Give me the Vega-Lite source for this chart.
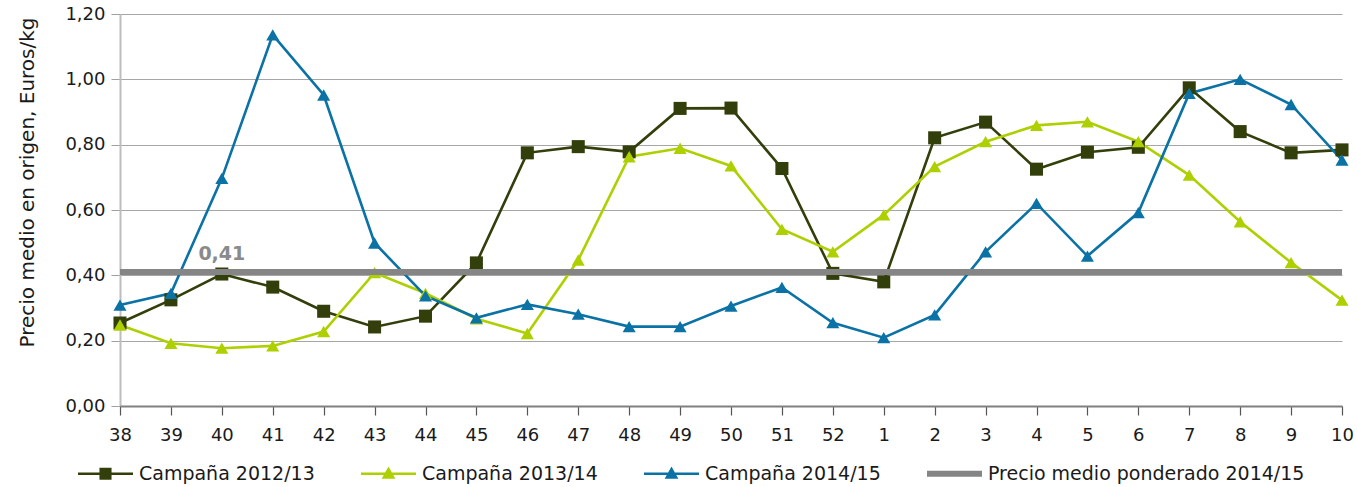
{
  "$schema": "https://vega.github.io/schema/vega-lite/v6.json",
  "width": 1222,
  "height": 392,
  "autosize": {"type": "none"},
  "padding": {"left": 120, "top": 14, "right": 15, "bottom": 81},
  "background": "white",
  "config": {
    "view": {"stroke": null},
    "font": "DejaVu Sans",
    "axis": {"labelFont": "DejaVu Sans", "titleFont": "DejaVu Sans", "labelColor": "#1a1a1a", "titleColor": "#1a1a1a"}
  },
  "datasets": {
    "precios": [
      {"serie": "Campaña 2012/13", "semana": "38", "precio": 0.254},
      {"serie": "Campaña 2012/13", "semana": "39", "precio": 0.325},
      {"serie": "Campaña 2012/13", "semana": "40", "precio": 0.404},
      {"serie": "Campaña 2012/13", "semana": "41", "precio": 0.364},
      {"serie": "Campaña 2012/13", "semana": "42", "precio": 0.290},
      {"serie": "Campaña 2012/13", "semana": "43", "precio": 0.242},
      {"serie": "Campaña 2012/13", "semana": "44", "precio": 0.275},
      {"serie": "Campaña 2012/13", "semana": "45", "precio": 0.438},
      {"serie": "Campaña 2012/13", "semana": "46", "precio": 0.775},
      {"serie": "Campaña 2012/13", "semana": "47", "precio": 0.794},
      {"serie": "Campaña 2012/13", "semana": "48", "precio": 0.778},
      {"serie": "Campaña 2012/13", "semana": "49", "precio": 0.911},
      {"serie": "Campaña 2012/13", "semana": "50", "precio": 0.912},
      {"serie": "Campaña 2012/13", "semana": "51", "precio": 0.727},
      {"serie": "Campaña 2012/13", "semana": "52", "precio": 0.406},
      {"serie": "Campaña 2012/13", "semana": "1", "precio": 0.380},
      {"serie": "Campaña 2012/13", "semana": "2", "precio": 0.821},
      {"serie": "Campaña 2012/13", "semana": "3", "precio": 0.869},
      {"serie": "Campaña 2012/13", "semana": "4", "precio": 0.725},
      {"serie": "Campaña 2012/13", "semana": "5", "precio": 0.777},
      {"serie": "Campaña 2012/13", "semana": "6", "precio": 0.792},
      {"serie": "Campaña 2012/13", "semana": "7", "precio": 0.974},
      {"serie": "Campaña 2012/13", "semana": "8", "precio": 0.840},
      {"serie": "Campaña 2012/13", "semana": "9", "precio": 0.775},
      {"serie": "Campaña 2012/13", "semana": "10", "precio": 0.784},
      {"serie": "Campaña 2013/14", "semana": "38", "precio": 0.248},
      {"serie": "Campaña 2013/14", "semana": "39", "precio": 0.192},
      {"serie": "Campaña 2013/14", "semana": "40", "precio": 0.177},
      {"serie": "Campaña 2013/14", "semana": "41", "precio": 0.184},
      {"serie": "Campaña 2013/14", "semana": "42", "precio": 0.228},
      {"serie": "Campaña 2013/14", "semana": "43", "precio": 0.408},
      {"serie": "Campaña 2013/14", "semana": "44", "precio": 0.345},
      {"serie": "Campaña 2013/14", "semana": "45", "precio": 0.267},
      {"serie": "Campaña 2013/14", "semana": "46", "precio": 0.222},
      {"serie": "Campaña 2013/14", "semana": "47", "precio": 0.447},
      {"serie": "Campaña 2013/14", "semana": "48", "precio": 0.763},
      {"serie": "Campaña 2013/14", "semana": "49", "precio": 0.789},
      {"serie": "Campaña 2013/14", "semana": "50", "precio": 0.735},
      {"serie": "Campaña 2013/14", "semana": "51", "precio": 0.541},
      {"serie": "Campaña 2013/14", "semana": "52", "precio": 0.472},
      {"serie": "Campaña 2013/14", "semana": "1", "precio": 0.585},
      {"serie": "Campaña 2013/14", "semana": "2", "precio": 0.733},
      {"serie": "Campaña 2013/14", "semana": "3", "precio": 0.809},
      {"serie": "Campaña 2013/14", "semana": "4", "precio": 0.859},
      {"serie": "Campaña 2013/14", "semana": "5", "precio": 0.870},
      {"serie": "Campaña 2013/14", "semana": "6", "precio": 0.809},
      {"serie": "Campaña 2013/14", "semana": "7", "precio": 0.707},
      {"serie": "Campaña 2013/14", "semana": "8", "precio": 0.564},
      {"serie": "Campaña 2013/14", "semana": "9", "precio": 0.439},
      {"serie": "Campaña 2013/14", "semana": "10", "precio": 0.324},
      {"serie": "Campaña 2014/15", "semana": "38", "precio": 0.309},
      {"serie": "Campaña 2014/15", "semana": "39", "precio": 0.345},
      {"serie": "Campaña 2014/15", "semana": "40", "precio": 0.697},
      {"serie": "Campaña 2014/15", "semana": "41", "precio": 1.136},
      {"serie": "Campaña 2014/15", "semana": "42", "precio": 0.952},
      {"serie": "Campaña 2014/15", "semana": "43", "precio": 0.499},
      {"serie": "Campaña 2014/15", "semana": "44", "precio": 0.337},
      {"serie": "Campaña 2014/15", "semana": "45", "precio": 0.270},
      {"serie": "Campaña 2014/15", "semana": "46", "precio": 0.311},
      {"serie": "Campaña 2014/15", "semana": "47", "precio": 0.281},
      {"serie": "Campaña 2014/15", "semana": "48", "precio": 0.243},
      {"serie": "Campaña 2014/15", "semana": "49", "precio": 0.243},
      {"serie": "Campaña 2014/15", "semana": "50", "precio": 0.306},
      {"serie": "Campaña 2014/15", "semana": "51", "precio": 0.363},
      {"serie": "Campaña 2014/15", "semana": "52", "precio": 0.255},
      {"serie": "Campaña 2014/15", "semana": "1", "precio": 0.209},
      {"serie": "Campaña 2014/15", "semana": "2", "precio": 0.279},
      {"serie": "Campaña 2014/15", "semana": "3", "precio": 0.472},
      {"serie": "Campaña 2014/15", "semana": "4", "precio": 0.620},
      {"serie": "Campaña 2014/15", "semana": "5", "precio": 0.459},
      {"serie": "Campaña 2014/15", "semana": "6", "precio": 0.592},
      {"serie": "Campaña 2014/15", "semana": "7", "precio": 0.957},
      {"serie": "Campaña 2014/15", "semana": "8", "precio": 1.000},
      {"serie": "Campaña 2014/15", "semana": "9", "precio": 0.923},
      {"serie": "Campaña 2014/15", "semana": "10", "precio": 0.753}
    ],
    "media": [
      {"serie": "Precio medio ponderado 2014/15", "semana": "40", "precio": 0.41, "etiqueta": "0,41"}
    ]
  },
  "encoding": {
    "x": {
      "field": "semana",
      "type": "ordinal",
      "scale": {"type": "point", "padding": 0, "domain": ["38","39","40","41","42","43","44","45","46","47","48","49","50","51","52","1","2","3","4","5","6","7","8","9","10"]},
      "axis": {
        "title": null,
        "labelAngle": 0,
        "labelFontSize": 18,
        "labelPadding": 11,
        "tickSize": 9,
        "tickColor": "#555555",
        "tickWidth": 1.2,
        "domainColor": "#808080",
        "domainWidth": 2,
        "grid": false,
        "zindex": 1
      }
    },
    "y": {
      "field": "precio",
      "type": "quantitative",
      "scale": {"domain": [0, 1.2], "nice": false, "zero": true},
      "axis": {
        "title": "Precio medio en origen, Euros/kg",
        "titleFontSize": 20,
        "titleFontWeight": "normal",
        "titlePadding": 27,
        "titleY": 168,
        "values": [0, 0.2, 0.4, 0.6, 0.8, 1.0, 1.2],
        "format": ".2f",
        "labelExpr": "replace(datum.label, '.', ',')",
        "labelFontSize": 18,
        "labelPadding": 6,
        "tickSize": 9,
        "tickColor": "#a0a0a0",
        "domainColor": "#bdbdbd",
        "domainWidth": 2,
        "grid": true,
        "gridColor": "#a6a6a6",
        "gridWidth": 1.2
      }
    }
  },
  "layer": [
    {
      "data": {"name": "precios"},
      "mark": {"type": "line", "strokeWidth": 2.6},
      "encoding": {
        "color": {
          "field": "serie",
          "type": "nominal",
          "scale": {
            "domain": ["Campaña 2012/13", "Campaña 2013/14", "Campaña 2014/15", "Precio medio ponderado 2014/15"],
            "range": ["#333f0b", "#aed000", "#0b72a6", "#858585"]
          },
          "legend": {
            "title": null,
            "orient": "none",
            "legendX": -42,
            "legendY": 432,
            "direction": "horizontal",
            "columns": 4,
            "columnPadding": 46,
            "labelFontSize": 19,
            "labelFont": "DejaVu Sans",
            "labelColor": "#1a1a1a",
            "labelOffset": 6,
            "labelLimit": 500,
            "symbolSize": 3025,
            "symbolType": "circle",
            "encode": {
              "symbols": {
                "update": {
                  "shape": {"signal": "datum.value === 'Campaña 2012/13' ? 'M-1,-0.045H1V0.045H-1Z M-0.22,-0.22H0.22V0.22H-0.22Z' : (datum.value === 'Precio medio ponderado 2014/15' ? 'M-1,-0.11H1V0.11H-1Z' : 'M-1,-0.045H1V0.045H-1Z M0,-0.26L0.25,0.18H-0.25Z')"},
                  "fill": {"signal": "scale('color', datum.value)"},
                  "fillOpacity": {"value": 1},
                  "opacity": {"value": 1},
                  "strokeWidth": {"value": 0}
                }
              }
            }
          }
        }
      }
    },
    {
      "data": {"name": "precios"},
      "mark": {"type": "point", "filled": true, "opacity": 1, "size": 170},
      "encoding": {
        "color": {"field": "serie", "type": "nominal"},
        "shape": {
          "field": "serie",
          "type": "nominal",
          "scale": {"domain": ["Campaña 2012/13", "Campaña 2013/14", "Campaña 2014/15"], "range": ["square", "triangle-up", "triangle-up"]},
          "legend": null
        }
      }
    },
    {
      "data": {"name": "media"},
      "mark": {"type": "rule", "strokeWidth": 6},
      "encoding": {
        "x": null,
        "y": {"field": "precio", "type": "quantitative"},
        "color": {"field": "serie", "type": "nominal"}
      }
    },
    {
      "data": {"name": "media"},
      "mark": {"type": "text", "fontSize": 19, "fontWeight": "bold", "color": "#8a8a8a", "dy": -18, "font": "DejaVu Sans"},
      "encoding": {
        "text": {"field": "etiqueta", "type": "nominal"}
      }
    }
  ]
}
